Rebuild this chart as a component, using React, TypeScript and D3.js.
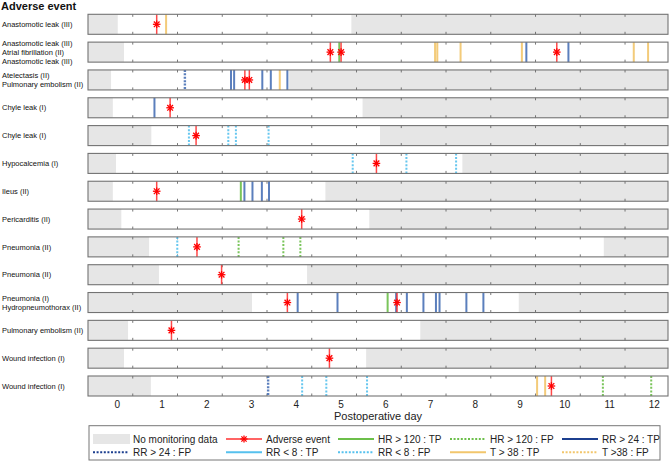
import React from "react";
import * as d3 from "d3";

const rowLabels: string[] = [
  "Anastomotic leak (III)",
  "Anastomotic leak (III)\nAtrial fibrillation (II)\nAnastomotic leak (III)",
  "Atelectasis (II)\nPulmonary embolism (II)",
  "Chyle leak (I)",
  "Chyle leak (I)",
  "Hypocalcemia (I)",
  "Ileus (II)",
  "Pericarditis (II)",
  "Pneumonia (II)",
  "Pneumonia (II)",
  "Pneumonia (I)\nHydropneumothorax (II)",
  "Pulmonary embolism (II)",
  "Wound infection (I)",
  "Wound infection (I)",
];

// end of initial no-monitoring period (day)
const grayLeftEnd: number[] = [0.01, 0.15, -0.14, -0.1, 0.76, -0.03, -0.1, 0.09, 0.71, 0.93, 3.01, 0.24, 0.15, 0.75];
// start of final no-monitoring period (day), null = none
const grayRightStart: (number | null)[] = [5.23, null, 3.84, 5.48, 5.87, 7.71, 4.65, 5.63, 10.87, 4.24, 8.97, 6.77, 5.56, null];

const adverseEvents: number[][] = [
  [0.88], [4.76, 5.0, 9.82], [2.85, 2.95], [1.18], [1.76], [5.79], [0.88], [4.12], [1.78], [2.33], [3.8, 6.25], [1.21], [4.74], [9.7],
];
const hrTP: number[][] = [[], [4.96], [], [], [], [], [2.76], [], [], [], [6.04], [], [], []];
const hrFP: number[][] = [[], [], [], [], [], [], [], [], [2.71, 3.71, 4.09], [], [], [], [], [10.85, 11.93]];
const rr24TP: number[][] = [
  [], [9.14, 10.08], [2.54, 2.61, 3.24, 3.43, 3.8], [0.83], [], [], [2.84, 3.02, 3.23, 3.39], [], [], [],
  [4.03, 4.92, 6.23, 6.47, 6.84, 7.12, 7.2, 7.8, 8.18], [], [], [],
];
const rr24FP: number[][] = [[], [], [1.51], [], [], [], [], [], [], [], [], [], [], [3.37]];
const rr8TP: number[][] = [[], [], [], [], [], [], [], [], [], [], [], [], [], []];
const rr8FP: number[][] = [[], [], [], [], [1.6, 2.48, 2.65, 3.38], [5.26, 6.46, 7.57], [], [], [1.34], [], [], [], [], [4.13, 4.67, 5.58]];
const t38TP: number[][] = [[1.09], [7.1, 7.15, 7.67, 9.04, 11.54, 11.86], [3.63], [], [], [], [], [], [], [], [], [], [], [9.38, 9.56]];
const t38FP: number[][] = [[], [], [], [], [], [], [], [], [], [], [], [], [], []];

const axisTicks: number[] = [0, 1, 2, 3, 4, 5, 6, 7, 8, 9, 10, 11, 12];
const panelTickOffset = 0.345;

const COL = {
  gray: "#e6e6e6",
  border: "#737373",
  red: "#ff0000",
  hr: "#6cbf4a",
  rr24: "#4a72b6",
  rr24Leg: "#1c3f8f",
  rr8: "#56c1ee",
  t38: "#f2c66c",
};

const FONT = "'Liberation Sans', Arial, sans-serif";

export default function App() {
  const W = 670, H = 462;
  const x0 = 88, x1 = 668;
  const x = d3.scaleLinear().domain([-0.655, 12.305]).range([x0, x1]);
  const rowH = 20;
  const yTop = d3.scaleLinear().domain([0, 13]).range([14.3, 376]);
  const nRows = rowLabels.length;

  type Sig = { data: number[][]; color: string; dash?: string; width: number };
  const signals: Sig[] = [
    { data: hrTP, color: COL.hr, width: 2 },
    { data: hrFP, color: COL.hr, dash: "2,1.6", width: 2 },
    { data: rr24TP, color: COL.rr24, width: 2 },
    { data: rr24FP, color: COL.rr24, dash: "2,1.4", width: 2.4 },
    { data: rr8TP, color: COL.rr8, width: 2 },
    { data: rr8FP, color: COL.rr8, dash: "2,1.6", width: 2 },
    { data: t38TP, color: COL.t38, width: 2 },
    { data: t38FP, color: COL.t38, dash: "2,1.6", width: 2 },
  ];

  const star = (cx: number, cy: number, r: number, key: string) => (
    <g key={key} stroke={COL.red} strokeWidth={1.3}>
      <line x1={cx - r} x2={cx + r} y1={cy} y2={cy} />
      <line x1={cx} x2={cx} y1={cy - r} y2={cy + r} />
      <line x1={cx - r * 0.75} x2={cx + r * 0.75} y1={cy - r * 0.75} y2={cy + r * 0.75} />
      <line x1={cx - r * 0.75} x2={cx + r * 0.75} y1={cy + r * 0.75} y2={cy - r * 0.75} />
    </g>
  );

  const panelTicks = d3.range(0, 12).map((k) => k + panelTickOffset);

  const rows = d3.range(nRows).map((i) => {
    const top = yTop(i);
    const bot = top + rowH;
    const mid = top + rowH / 2;
    const lines = rowLabels[i].split("\n");
    const lh = 8.7;
    const right = grayRightStart[i];
    return (
      <g key={i}>
        <rect x={x0} y={top} width={x1 - x0} height={rowH} fill="#ffffff" />
        <rect x={x0} y={top} width={Math.max(0, x(grayLeftEnd[i]) - x0)} height={rowH} fill={COL.gray} />
        {right !== null && (
          <rect x={x(right)} y={top} width={x1 - x(right)} height={rowH} fill={COL.gray} />
        )}
        {panelTicks.map((t, k) => (
          <g key={k} stroke="#555" strokeWidth={0.8}>
            <line x1={x(t)} x2={x(t)} y1={top} y2={top + 2.5} />
            <line x1={x(t)} x2={x(t)} y1={bot} y2={bot - 2.5} />
          </g>
        ))}
        {signals.map((s, si) =>
          s.data[i].map((v, j) => (
            <line
              key={`${si}-${j}`}
              x1={x(v)}
              x2={x(v)}
              y1={top}
              y2={bot}
              stroke={s.color}
              strokeWidth={s.width}
              strokeDasharray={s.dash}
              opacity={0.9}
            />
          ))
        )}
        {adverseEvents[i].map((v, j) => (
          <g key={`ae${j}`}>
            <line x1={x(v)} x2={x(v)} y1={top} y2={bot} stroke="#ff2a2a" strokeWidth={1.5} opacity={0.85} />
            {star(x(v), mid, 3.8, `s${j}`)}
          </g>
        ))}
        <rect x={x0} y={top} width={x1 - x0} height={rowH} fill="none" stroke={COL.border} strokeWidth={1.1} />
        <text fontFamily={FONT} fontSize={7.5} fill="#111">
          {lines.map((l, k) => (
            <tspan key={k} x={2} y={mid + 2.7 + (k - (lines.length - 1) / 2) * lh}>
              {l}
            </tspan>
          ))}
        </text>
      </g>
    );
  });

  // legend
  const legY1 = 439, legY2 = 452.3;
  const colLine = [93, 226, 338, 450, 562];
  const lineLen = 36;
  type LegItem = { label: string; kind: "gray" | "ae" | "line"; color?: string; dash?: string };
  const legendItems: LegItem[] = [
    { label: "No monitoring data", kind: "gray" },
    { label: "Adverse event", kind: "ae" },
    { label: "HR > 120 : TP", kind: "line", color: COL.hr },
    { label: "HR > 120 : FP", kind: "line", color: COL.hr, dash: "2,1.6" },
    { label: "RR > 24 : TP", kind: "line", color: COL.rr24Leg },
    { label: "RR > 24 : FP", kind: "line", color: COL.rr24Leg, dash: "2,1.6" },
    { label: "RR < 8 : TP", kind: "line", color: COL.rr8 },
    { label: "RR < 8 : FP", kind: "line", color: COL.rr8, dash: "2,1.6" },
    { label: "T > 38 : TP", kind: "line", color: COL.t38 },
    { label: "T >38 : FP", kind: "line", color: COL.t38, dash: "2,1.6" },
  ];

  return (
    <svg width={W} height={H} style={{ position: "absolute", left: 0, top: 0, background: "#fff" }}>
      <rect x={0} y={0} width={W} height={H} fill="#fff" />
      <text x={1} y={9.5} fontFamily={FONT} fontSize={11} fontWeight="bold" fill="#111">
        Adverse event
      </text>
      {rows}
      {axisTicks.map((t) => (
        <text key={t} x={x(t)} y={407.5} textAnchor="middle" fontFamily={FONT} fontSize={10} fill="#222">
          {t}
        </text>
      ))}
      <text x={(x0 + x1) / 2} y={419.5} textAnchor="middle" fontFamily={FONT} fontSize={11} fill="#222">
        Postoperative day
      </text>
      <rect x={89} y={425.7} width={571} height={34.3} fill="#fff" stroke="#777" strokeWidth={1} />
      {legendItems.map((it, k) => {
        const col = k % 5;
        const y = k < 5 ? legY1 : legY2;
        const lx = colLine[col];
        return (
          <g key={k}>
            {it.kind === "gray" && <rect x={lx} y={y - 5} width={37} height={10} fill={COL.gray} />}
            {it.kind === "ae" && (
              <g>
                <line x1={lx} x2={lx + lineLen} y1={y} y2={y} stroke="#ff3030" strokeWidth={1.5} />
                {star(lx + lineLen / 2, y, 3.5, "ls")}
              </g>
            )}
            {it.kind === "line" && (
              <line x1={lx} x2={lx + lineLen} y1={y} y2={y} stroke={it.color} strokeWidth={2} strokeDasharray={it.dash} />
            )}
            <text x={lx + 40} y={y + 3.5} fontFamily={FONT} fontSize={10} fill="#222">
              {it.label}
            </text>
          </g>
        );
      })}
    </svg>
  );
}
